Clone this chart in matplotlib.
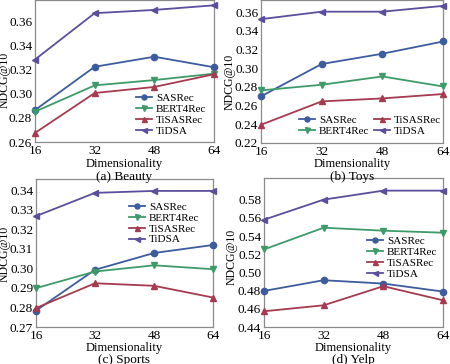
import matplotlib
matplotlib.use("Agg")
import matplotlib.pyplot as plt

plt.rcParams['font.family'] = ['Liberation Serif', 'DejaVu Serif']
plt.rcParams['mathtext.fontset'] = 'stix'

# --- dados ---
dims = [16, 32, 48, 64]
methods = ["SASRec", "BERT4Rec", "TiSASRec", "TiDSA"]

beauty_sasrec = [0.2864, 0.3222, 0.3305, 0.3218]
beauty_bert4rec = [0.2851, 0.3068, 0.3112, 0.3165]
beauty_tisasrec = [0.2675, 0.3005, 0.3055, 0.3160]
beauty_tidsa = [0.3282, 0.3665, 0.3692, 0.3730]

toys_sasrec = [0.2699, 0.3045, 0.3155, 0.3286]
toys_bert4rec = [0.2763, 0.2823, 0.2912, 0.2805]
toys_tisasrec = [0.2395, 0.2645, 0.2677, 0.2724]
toys_tidsa = [0.3525, 0.3605, 0.3605, 0.3667]

sports_sasrec = [0.2784, 0.2993, 0.3079, 0.3120]
sports_bert4rec = [0.2899, 0.2984, 0.3016, 0.2996]
sports_tisasrec = [0.2797, 0.2924, 0.2911, 0.2851]
sports_tidsa = [0.3268, 0.3387, 0.3397, 0.3397]

yelp_sasrec = [0.4797, 0.4915, 0.4878, 0.4790]
yelp_bert4rec = [0.5254, 0.5493, 0.5460, 0.5438]
yelp_tisasrec = [0.4573, 0.4639, 0.4849, 0.4694]
yelp_tidsa = [0.5581, 0.5802, 0.5901, 0.5901]

# --- estilo ---
CORES = ["#3d5c9e", "#3f9a6a", "#a53a50", "#5a4f9c"]
MARCADORES = ["o", "v", "^", "<"]
W, H = 450, 364


def eixo(fig, x0, y0, x1, y1):
    # coordenadas em pixels (origem no topo)
    return fig.add_axes([x0 / W, 1 - y1 / H, (x1 - x0) / W, (y1 - y0) / H])


def px_ax(ax, xp, yp):
    # pixel da figura -> coordenadas do eixo
    p = ax.get_position()
    return (xp / W - p.x0) / p.width, (1 - yp / H - p.y0) / p.height


def desenhar(ax, series, ylim, yticks, ylab_px, xlab_py, leg_px, ncol=1):
    for s, nome, c, m in zip(series, methods, CORES, MARCADORES):
        ax.plot(dims, s, color=c, marker=m, markersize=4.5, linewidth=1.3,
                label=nome, clip_on=False, zorder=3)
    ax.set_xlim(16, 64)
    ax.set_ylim(*ylim)
    ax.set_xticks(dims)
    ax.set_yticks(yticks)
    ax.set_yticklabels([f"{v:.2f}" for v in yticks])
    ax.tick_params(length=0, labelsize=9.5)
    ax.tick_params(axis="y", pad=2)
    ax.tick_params(axis="x", pad=2.5)
    for sp in ax.spines.values():
        sp.set_color("#8a8a8a")
        sp.set_linewidth(0.9)

    ax.set_xlabel("Dimensionality", fontsize=9)
    ax.xaxis.label.set_va("center")
    p = ax.get_position()
    cx = (p.x0 + p.x1) / 2 * W
    ax.xaxis.set_label_coords(*px_ax(ax, cx, xlab_py))

    ax.set_ylabel("NDCG@10", fontsize=8.5)
    ax.yaxis.label.set_va("center")
    ax.yaxis.set_label_coords(*px_ax(ax, *ylab_px))

    ax.legend(frameon=False, fontsize=8, handlelength=1.45,
              labelspacing=0.1, handletextpad=0.35, borderpad=0,
              borderaxespad=0, markerscale=0.8, ncol=ncol, columnspacing=0.4,
              loc="upper left",
              bbox_to_anchor=(leg_px[0] / W, 1 - leg_px[1] / H),
              bbox_transform=fig.transFigure)


fig = plt.figure(figsize=(4.5, 3.64), dpi=100)

ax_a = eixo(fig, 35, 0, 214, 142)
desenhar(ax_a, [beauty_sasrec, beauty_bert4rec, beauty_tisasrec, beauty_tidsa],
         (0.26, 0.3774), [0.26, 0.28, 0.30, 0.32, 0.34, 0.36],
         (4.5, 80), 164, (136, 93.5))
ax_b = eixo(fig, 261, 0, 443, 143)
desenhar(ax_b, [toys_sasrec, toys_bert4rec, toys_tisasrec, toys_tidsa],
         (0.22, 0.373), [0.22, 0.24, 0.26, 0.28, 0.30, 0.32, 0.34, 0.36],
         (230, 82), 164, (299, 115), ncol=2)
ax_c = eixo(fig, 36, 179, 213, 327)
desenhar(ax_c, [sports_sasrec, sports_bert4rec, sports_tisasrec, sports_tidsa],
         (0.27, 0.3458), [0.27, 0.28, 0.29, 0.30, 0.31, 0.32, 0.33, 0.34],
         (4.5, 254), 348, (129, 202))
ax_d = eixo(fig, 264, 178, 443, 327)
desenhar(ax_d, [yelp_sasrec, yelp_bert4rec, yelp_tisasrec, yelp_tidsa],
         (0.44, 0.604), [0.44, 0.46, 0.48, 0.50, 0.52, 0.54, 0.56, 0.58],
         (232, 257), 348, (367, 236.5))

# legendas dos subgraficos
for ax, txt, ypix in [(ax_a, "(a) Beauty", 176.5), (ax_b, "(b) Toys", 176.5),
                      (ax_c, "(c) Sports", 359.5), (ax_d, "(d) Yelp", 359.5)]:
    pos = ax.get_position()
    fig.text((pos.x0 + pos.x1) / 2, 1 - ypix / H, txt, ha="center",
             va="center", fontsize=9.5)

fig.savefig("out.png", dpi=100)
